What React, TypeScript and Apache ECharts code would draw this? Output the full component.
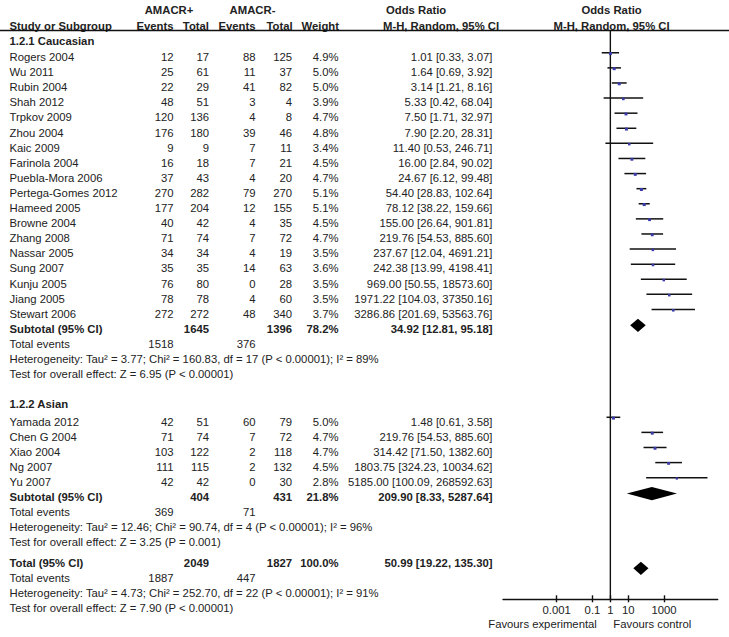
import React, { useEffect, useRef } from 'react';
import * as echarts from 'echarts';

const W = 729;
const H = 637;

// ---------- data ----------
const CAU_STUDIES = ['Rogers 2004', 'Wu 2011', 'Rubin 2004', 'Shah 2012', 'Trpkov 2009', 'Zhou 2004', 'Kaic 2009', 'Farinola 2004', 'Puebla-Mora 2006', 'Pertega-Gomes 2012', 'Hameed 2005', 'Browne 2004', 'Zhang 2008', 'Nassar 2005', 'Sung 2007', 'Kunju 2005', 'Jiang 2005', 'Stewart 2006'];
const CAU_EV_POS = [12, 25, 22, 48, 120, 176, 9, 16, 37, 270, 177, 40, 71, 34, 35, 76, 78, 272];
const CAU_TOT_POS = [17, 61, 29, 51, 136, 180, 9, 18, 43, 282, 204, 42, 74, 34, 35, 80, 78, 272];
const CAU_EV_NEG = [88, 11, 41, 3, 4, 39, 7, 7, 4, 79, 12, 4, 7, 4, 14, 0, 4, 48];
const CAU_TOT_NEG = [125, 37, 82, 4, 8, 46, 11, 21, 20, 270, 155, 35, 72, 19, 63, 28, 60, 340];
const CAU_WEIGHT = [4.9, 5.0, 5.0, 3.9, 4.7, 4.8, 3.4, 4.5, 4.7, 5.1, 5.1, 4.5, 4.7, 3.5, 3.6, 3.5, 3.5, 3.7];
const CAU_OR = [1.01, 1.64, 3.14, 5.33, 7.50, 7.90, 11.40, 16.00, 24.67, 54.40, 78.12, 155.00, 219.76, 237.67, 242.38, 969.00, 1971.22, 3286.86];
const CAU_LO = [0.33, 0.69, 1.21, 0.42, 1.71, 2.20, 0.53, 2.84, 6.12, 28.83, 38.22, 26.64, 54.53, 12.04, 13.99, 50.55, 104.03, 201.69];
const CAU_HI = [3.07, 3.92, 8.16, 68.04, 32.97, 28.31, 246.71, 90.02, 99.48, 102.64, 159.66, 901.81, 885.60, 4691.21, 4198.41, 18573.60, 37350.16, 53563.76];
const CAU_SUB = { totPos: 1645, totNeg: 1396, weight: '78.2%', or: 34.92, lo: 12.81, hi: 95.18, evPos: 1518, evNeg: 376 };
const CAU_HET = 'Heterogeneity: Tau² = 3.77; Chi² = 160.83, df = 17 (P < 0.00001); I² = 89%';
const CAU_TEST = 'Test for overall effect: Z = 6.95 (P < 0.00001)';

const ASIA_STUDIES = ['Yamada 2012', 'Chen G 2004', 'Xiao 2004', 'Ng 2007', 'Yu 2007'];
const ASIA_EV_POS = [42, 71, 103, 111, 42];
const ASIA_TOT_POS = [51, 74, 122, 115, 42];
const ASIA_EV_NEG = [60, 7, 2, 2, 0];
const ASIA_TOT_NEG = [79, 72, 118, 132, 30];
const ASIA_WEIGHT = [5.0, 4.7, 4.7, 4.5, 2.8];
const ASIA_OR = [1.48, 219.76, 314.42, 1803.75, 5185.00];
const ASIA_LO = [0.61, 54.53, 71.50, 324.23, 100.09];
const ASIA_HI = [3.58, 885.60, 1382.60, 10034.62, 268592.63];
const ASIA_SUB = { totPos: 404, totNeg: 431, weight: '21.8%', or: 209.90, lo: 8.33, hi: 5287.64, evPos: 369, evNeg: 71 };
const ASIA_HET = 'Heterogeneity: Tau² = 12.46; Chi² = 90.74, df = 4 (P < 0.00001); I² = 96%';
const ASIA_TEST = 'Test for overall effect: Z = 3.25 (P = 0.001)';

const TOTAL = { totPos: 2049, totNeg: 1827, weight: '100.0%', or: 50.99, lo: 19.22, hi: 135.30, evPos: 1887, evNeg: 447 };
const TOTAL_HET = 'Heterogeneity: Tau² = 4.73; Chi² = 252.70, df = 22 (P < 0.00001); I² = 91%';
const TOTAL_TEST = 'Test for overall effect: Z = 7.90 (P < 0.00001)';

const TICK_VALUES = [0.001, 0.1, 1, 10, 1000];
const TICK_LABELS = ['0.001', '0.1', '1', '10', '1000'];
const AXIS_MIN = 1e-6;
const AXIS_MAX = 1e6;

// ---------- layout ----------
const FONT_FAMILY = '"Liberation Sans", Arial, Helvetica, sans-serif';
const FS = 11.3;
const TEXT_COLOR = '#222';
const GRID_LEFT = 503;
const GRID_RIGHT = 11.3;
const GRID_TOP = 30.5;
const GRID_BOTTOM = 37.7;
const ROW_H = 15.1;
const FIRST_Y = 57;

const K_CAU_HEAD = -1.06;
const K_CAU_FIRST = 0;
const K_CAU_SUB = K_CAU_FIRST + CAU_STUDIES.length;
const K_ASIA_HEAD = K_CAU_SUB + 3 + 1.98;
const K_ASIA_FIRST = K_ASIA_HEAD + 1.16;
const K_ASIA_SUB = K_ASIA_FIRST + ASIA_STUDIES.length;
const K_TOTAL = K_ASIA_SUB + 3 + 1.36;

const MARK_OFFSET = -0.28;
const SUB_DIAMOND_OFFSET = -0.23;
const TOTAL_DIAMOND_OFFSET = 0.36;

const Y_MIN = (GRID_TOP - FIRST_Y) / ROW_H;
const Y_MAX = (H - GRID_BOTTOM - FIRST_Y) / ROW_H;

const rowPx = (k: number) => FIRST_Y + k * ROW_H;

const COL = { name: 9.5, evPos: 173.5, totPos: 209, evNeg: 255.5, totNeg: 292, weight: 338.5, or: 492.5 };

const fmt2 = (v: number) => v.toFixed(2);
const ciText = (or: number, lo: number, hi: number) => `${fmt2(or)} [${fmt2(lo)}, ${fmt2(hi)}]`;

function txt(text: string, x: number, y: number, align: string, bold = false) {
  return {
    type: 'text',
    x,
    y,
    silent: true,
    style: {
      text,
      fill: TEXT_COLOR,
      font: `${bold ? 'bold ' : ''}${FS}px ${FONT_FAMILY}`,
      textAlign: align,
      textVerticalAlign: 'middle',
      align,
      verticalAlign: 'middle',
    },
  };
}

export default function App() {
  const ref = useRef<HTMLDivElement>(null);

  useEffect(() => {
    if (!ref.current) return;
    const chart = echarts.init(ref.current, null, { renderer: 'svg', width: W, height: H });

    const plotW = W - GRID_LEFT - GRID_RIGHT;
    const lmin = Math.log10(AXIS_MIN);
    const lmax = Math.log10(AXIS_MAX);
    const onePx = GRID_LEFT + ((0 - lmin) / (lmax - lmin)) * plotW;

    const g: any[] = [];
    // headers
    g.push(txt('AMACR+', 169, 10, 'center', true));
    g.push(txt('AMACR-', 252.5, 10, 'center', true));
    g.push(txt('Odds Ratio', 386, 10, 'left', true));
    g.push(txt('Odds Ratio', onePx + 1.2, 10, 'center', true));
    g.push(txt('Study or Subgroup', COL.name, 25.7, 'left', true));
    g.push(txt('Events', COL.evPos, 25.7, 'right', true));
    g.push(txt('Total', COL.totPos, 25.7, 'right', true));
    g.push(txt('Events', COL.evNeg, 25.7, 'right', true));
    g.push(txt('Total', COL.totNeg + 0.7, 25.7, 'right', true));
    g.push(txt('Weight', COL.weight + 0.5, 25.7, 'right', true));
    g.push(txt('M-H, Random, 95% CI', 383, 25.7, 'left', true));
    g.push(txt('M-H, Random, 95% CI', onePx + 1.2, 25.7, 'center', true));
    g.push({
      type: 'line',
      silent: true,
      shape: { x1: 0, y1: GRID_TOP, x2: W, y2: GRID_TOP },
      style: { stroke: '#111', lineWidth: 1.4 },
    });

    const studyRows = (names: string[], ep: number[], tp: number[], en: number[], tn: number[], w: number[], or: number[], lo: number[], hi: number[], k0: number) => {
      names.forEach((n, i) => {
        const y = rowPx(k0 + i);
        g.push(txt(n, COL.name, y, 'left'));
        g.push(txt(String(ep[i]), COL.evPos, y, 'right'));
        g.push(txt(String(tp[i]), COL.totPos, y, 'right'));
        g.push(txt(String(en[i]), COL.evNeg, y, 'right'));
        g.push(txt(String(tn[i]), COL.totNeg, y, 'right'));
        g.push(txt(`${w[i].toFixed(1)}%`, COL.weight, y, 'right'));
        g.push(txt(ciText(or[i], lo[i], hi[i]), COL.or, y, 'right'));
      });
    };
    const summaryRows = (label: string, s: any, het: string, test: string, k: number) => {
      const y = rowPx(k);
      g.push(txt(label, COL.name, y, 'left', true));
      g.push(txt(String(s.totPos), COL.totPos, y, 'right', true));
      g.push(txt(String(s.totNeg), COL.totNeg, y, 'right', true));
      g.push(txt(s.weight, COL.weight, y, 'right', true));
      g.push(txt(ciText(s.or, s.lo, s.hi), COL.or, y, 'right', true));
      g.push(txt('Total events', COL.name, rowPx(k + 1), 'left'));
      g.push(txt(String(s.evPos), COL.evPos, rowPx(k + 1), 'right'));
      g.push(txt(String(s.evNeg), COL.evNeg, rowPx(k + 1), 'right'));
      g.push(txt(het, COL.name, rowPx(k + 2), 'left'));
      g.push(txt(test, COL.name, rowPx(k + 3), 'left'));
    };

    g.push(txt('1.2.1 Caucasian', COL.name, rowPx(K_CAU_HEAD), 'left', true));
    studyRows(CAU_STUDIES, CAU_EV_POS, CAU_TOT_POS, CAU_EV_NEG, CAU_TOT_NEG, CAU_WEIGHT, CAU_OR, CAU_LO, CAU_HI, K_CAU_FIRST);
    summaryRows('Subtotal (95% CI)', CAU_SUB, CAU_HET, CAU_TEST, K_CAU_SUB);

    g.push(txt('1.2.2 Asian', COL.name, rowPx(K_ASIA_HEAD), 'left', true));
    studyRows(ASIA_STUDIES, ASIA_EV_POS, ASIA_TOT_POS, ASIA_EV_NEG, ASIA_TOT_NEG, ASIA_WEIGHT, ASIA_OR, ASIA_LO, ASIA_HI, K_ASIA_FIRST);
    summaryRows('Subtotal (95% CI)', ASIA_SUB, ASIA_HET, ASIA_TEST, K_ASIA_SUB);

    summaryRows('Total (95% CI)', TOTAL, TOTAL_HET, TOTAL_TEST, K_TOTAL);

    g.push(txt('Favours experimental', onePx - 13.5, 624, 'right'));
    g.push(txt('Favours control', onePx + 3, 624, 'left'));

    // plot data (log10 space)
    const L = Math.log10;
    const studyData: any[] = [];
    CAU_STUDIES.forEach((_, i) => studyData.push([L(CAU_LO[i]), L(CAU_HI[i]), L(CAU_OR[i]), K_CAU_FIRST + i + MARK_OFFSET, CAU_WEIGHT[i]]));
    ASIA_STUDIES.forEach((_, i) => studyData.push([L(ASIA_LO[i]), L(ASIA_HI[i]), L(ASIA_OR[i]), K_ASIA_FIRST + i + MARK_OFFSET, ASIA_WEIGHT[i]]));
    const diamondData = [
      [L(CAU_SUB.lo), L(CAU_SUB.hi), L(CAU_SUB.or), K_CAU_SUB + SUB_DIAMOND_OFFSET],
      [L(ASIA_SUB.lo), L(ASIA_SUB.hi), L(ASIA_SUB.or), K_ASIA_SUB + SUB_DIAMOND_OFFSET],
      [L(TOTAL.lo), L(TOTAL.hi), L(TOTAL.or), K_TOTAL + TOTAL_DIAMOND_OFFSET],
    ];

    const tickVals = TICK_VALUES.map((v) => L(v));
    const labelFor = (v: number) => {
      let best = 0;
      tickVals.forEach((t, i) => { if (Math.abs(t - v) < Math.abs(tickVals[best] - v)) best = i; });
      return TICK_LABELS[best];
    };

    chart.setOption({
      animation: false,
      backgroundColor: '#fff',
      grid: { left: GRID_LEFT, right: GRID_RIGHT, top: GRID_TOP, bottom: GRID_BOTTOM, containLabel: false, outerBoundsMode: 'none' },
      xAxis: [
        {
          type: 'value',
          min: lmin,
          max: lmax,
          position: 'bottom',
          axisLine: { show: true, onZero: false, lineStyle: { color: '#111', width: 1.4 } },
          axisTick: { show: true, customValues: tickVals, length: 3, lineStyle: { color: '#111', width: 1.4 } },
          axisLabel: {
            show: true,
            customValues: tickVals,
            formatter: (v: number) => labelFor(v),
            margin: 5,
            color: TEXT_COLOR,
            fontSize: FS,
            fontFamily: FONT_FAMILY,
          },
          splitLine: { show: false },
        },
        {
          type: 'value',
          min: lmin,
          max: lmax,
          position: 'bottom',
          axisLine: { show: false, onZero: false },
          axisTick: { show: true, inside: true, customValues: tickVals, length: 4, lineStyle: { color: '#111', width: 1.4 } },
          axisLabel: { show: false },
          splitLine: { show: false },
        },
      ],
      yAxis: { type: 'value', min: Y_MIN, max: Y_MAX, inverse: true, show: false, splitLine: { show: false } },
      graphic: { elements: g },
      series: [
        {
          type: 'line',
          data: [[0, Y_MIN], [0, Y_MAX]],
          symbol: 'none',
          lineStyle: { color: '#111', width: 1.4 },
          silent: true,
          z: 1,
        },
        {
          type: 'custom',
          z: 3,
          silent: true,
          data: studyData,
          renderItem: (_p: any, api: any) => {
            const y = api.value(3);
            const a = api.coord([api.value(0), y]);
            const b = api.coord([api.value(1), y]);
            const c = api.coord([api.value(2), y]);
            const s = Math.sqrt(api.value(4)) * 1.35;
            return {
              type: 'group',
              children: [
                { type: 'line', shape: { x1: a[0], y1: a[1], x2: b[0], y2: b[1] }, style: { stroke: '#111', lineWidth: 1.5 } },
                { type: 'rect', shape: { x: c[0] - s / 2, y: c[1] - s / 2 + 0.8, width: s, height: s }, style: { fill: '#3a3aa8' } },
              ],
            };
          },
        },
        {
          type: 'custom',
          z: 3,
          silent: true,
          data: diamondData,
          renderItem: (_p: any, api: any) => {
            const y = api.value(3);
            const a = api.coord([api.value(0), y]);
            const b = api.coord([api.value(1), y]);
            const c = api.coord([api.value(2), y]);
            const h = 6.6;
            return {
              type: 'polygon',
              shape: { points: [[a[0], a[1]], [c[0], c[1] - h], [b[0], b[1]], [c[0], c[1] + h]] },
              style: { fill: '#000' },
            };
          },
        },
      ],
    });

    return () => chart.dispose();
  }, []);

  return <div ref={ref} style={{ position: 'fixed', left: 0, top: 0, width: W, height: H, background: '#fff' }} />;
}
